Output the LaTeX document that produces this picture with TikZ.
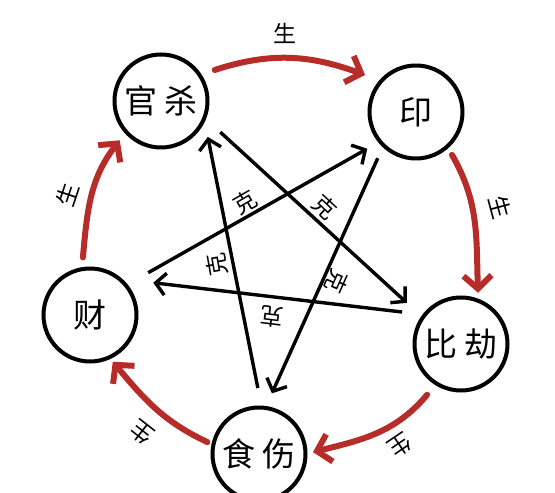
\documentclass[tikz,border=0pt]{standalone}
\usepackage{fontspec}
\setmainfont{Noto Sans CJK SC}
\usetikzlibrary{arrows.meta,calc}
\definecolor{shengred}{RGB}{182,44,40}
\tikzset{
  pillar/.style={circle, draw=black, line width=4pt, minimum size=93pt, inner sep=0pt, font=\fontsize{33}{33}\selectfont},
  shengarrow/.style={draw=shengred, line width=6pt, line cap=round, -{Straight Barb[length=13pt,width=28pt]}},
  kearrow/.style={draw=black, line width=3.4pt, -{Straight Barb[length=10pt,width=22pt]}},
  lbl/.style={font=\fontsize{23}{23}\selectfont, inner sep=0pt},
}
\begin{document}
\begin{tikzpicture}[x=1pt,y=1pt]
\fill[white] (0,0) rectangle (555,493);
\useasboundingbox (0,0) rectangle (555,493);
\node[pillar] (G) at (161,392) {官\hspace{7pt}杀};
\node[pillar] (Y) at (416,381) {印};
\node[pillar] (B) at (461,149) {比\hspace{7pt}劫};
\node[pillar] (S) at (259,39) {食\hspace{7pt}伤};
\node[pillar] (C) at (90,178) {财};
% ke arrows
\draw[kearrow] ($(S)+(91:66pt)$) -- ($(G)+(-37.5:59pt)$);
\draw[kearrow] ($(G)+(-27.7:67pt)$) -- ($(B)+(142.8:68pt)$);
\draw[kearrow] ($(B)+(151.5:67pt)$) -- ($(C)+(27:71pt)$);
\draw[kearrow] ($(C)+(36:72pt)$) -- ($(Y)+(-143:61pt)$);
\draw[kearrow] ($(Y)+(-129.6:60pt)$) -- ($(S)+(78:62pt)$);
% sheng arrows
\draw[shengarrow] ($(G)+(30:62pt)$) to[out=18,in=160] ($(Y)+(144:63pt)$);
\draw[shengarrow] ($(Y)+(-50:56pt)$) to[out=-60,in=92] ($(B)+(71.6:54pt)$);
\draw[shengarrow] ($(B)+(-123.7:61pt)$) to[out=-130,in=14] ($(S)+(2:54pt)$);
\draw[shengarrow] ($(S)+(167:53pt)$) to[out=155,in=-50] ($(C)+(-64:52pt)$);
\draw[shengarrow] ($(C)+(97:58pt)$) to[out=85,in=-128] ($(G)+(-136.4:57pt)$);
% labels
\node[lbl] (s1) at (285,460) {生};
\node[lbl, rotate=-75] (s2) at (500,286) {生};
\node[lbl, rotate=-146] (s3) at (400,48) {生};
\node[lbl, rotate=142] (s4) at (142,60) {生};
\node[lbl, rotate=71.5] (s5) at (68,298) {生};
\node[lbl, rotate=30] (k1) at (245,291) {克};
\node[lbl, rotate=-43] (k2) at (325,286) {克};
\node[lbl, rotate=100] (k3) at (217,228) {克};
\node[lbl, rotate=-114] (k4) at (337,211) {克};
\node[lbl, rotate=173] (k5) at (272,176) {克};
\end{tikzpicture}
\end{document}
